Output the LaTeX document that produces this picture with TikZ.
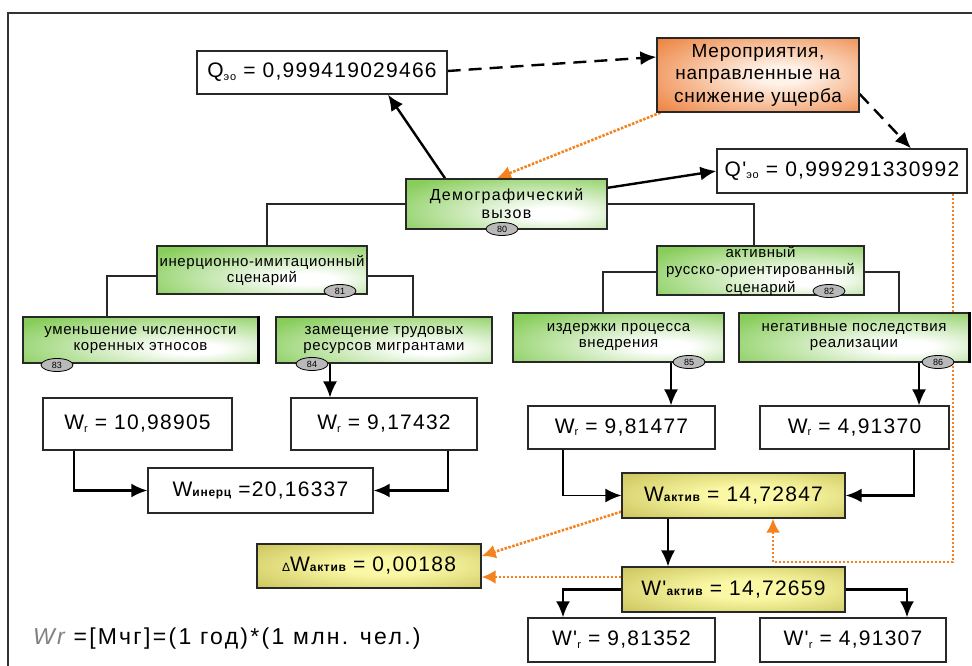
\documentclass[tikz,border=0pt]{standalone}
\usepackage{fontspec}
\setmainfont{Liberation Sans}
\newfontfamily\numf[LetterSpace=6]{Liberation Sans}
\newfontfamily\txtf[LetterSpace=4]{Liberation Sans}
\newfontfamily\widef[LetterSpace=8]{Liberation Sans}
\newfontfamily\formf[LetterSpace=10]{Liberation Sans}
\usetikzlibrary{arrows.meta,shapes.geometric,calc}
\pgfdeclarelayer{bg}
\pgfsetlayers{bg,main}
\definecolor{gout}{RGB}{135,205,90}
\definecolor{oout}{RGB}{236,122,50}
\definecolor{oin}{RGB}{255,242,232}
\definecolor{yout}{RGB}{190,182,72}
\definecolor{yin}{RGB}{250,248,165}
\definecolor{orng}{RGB}{245,130,30}
\definecolor{bord}{RGB}{40,40,40}
\pgfdeclareradialshading{gshade}{\pgfpoint{12bp}{-10bp}}{color(0bp)=(white);color(6bp)=(white);color(40bp)=(gout);color(100bp)=(gout)}
\pgfdeclareradialshading{oshade}{\pgfpoint{6bp}{0bp}}{color(0bp)=(oin);color(6bp)=(oin);color(40bp)=(oout);color(100bp)=(oout)}
\pgfdeclareradialshading{yshade}{\pgfpoint{4bp}{0bp}}{color(0bp)=(yin);color(10bp)=(yin);color(45bp)=(yout);color(100bp)=(yout)}
\newcommand\lowsub[1]{\raisebox{-2.5pt}{\fontsize{11}{11}\selectfont #1}}
\newcommand\smb[1]{{\fontsize{12}{12}\selectfont\bfseries #1}}
\begin{document}
\begin{tikzpicture}[x=1pt,y=-1pt,
  sz/.style 2 args={minimum width=#1pt,minimum height=#2pt,inner sep=0pt},
  wbox/.style={draw=bord,line width=1.3pt,fill=white,align=center,font=\numf\fontsize{21}{24}\selectfont},
  gbox/.style={draw=bord,line width=1.5pt,shading=gshade,align=center,font=\txtf\fontsize{15}{16}\selectfont},
  obox/.style={draw=bord,line width=1.3pt,shading=oshade,align=center,font=\txtf\fontsize{19}{22.5}\selectfont},
  ybox/.style={draw=bord,line width=1.3pt,shading=yshade,align=center,font=\numf\fontsize{21}{24}\selectfont},
  badge/.style={ellipse,draw=black,line width=0.8pt,fill=gray!55,minimum width=32pt,minimum height=13pt,inner sep=0pt,font=\fontsize{9}{9}\selectfont},
  frame/.style={draw=black!80,line width=1.6pt},
  tree/.style={draw=bord,line width=1.1pt},
  arr/.style={draw=black,line width=1.6pt,-{Latex[length=16pt,width=14pt]}},
  harr/.style={draw=black,line width=2.4pt,-{Latex[length=16pt,width=14pt]}},
  darr/.style={draw=black,line width=2.4pt,dash pattern=on 13pt off 8pt,-{Latex[length=16pt,width=14pt]}},
  oarr/.style={draw=orng,line width=2.6pt,dash pattern=on 2.5pt off 1.5pt,-{Latex[length=14pt,width=14pt,color=orng]}},
  olin/.style={draw=orng,line width=2.6pt,dash pattern=on 2.5pt off 1.5pt}
]
\useasboundingbox (0,0) rectangle (972,666);

% top level
\node[wbox,sz={250}{43}] (qso) at (322,72.5) {Q\lowsub{эо} = 0,999419029466};
\node[obox,sz={202}{74}] (mer) at (758,75) {Мероприятия,\\направленные на\\снижение ущерба};
\node[wbox,sz={250}{44}] (qpso) at (842,171) {Q'\lowsub{эо} = 0,999291330992};
\node[gbox,sz={201}{50},font=\widef\fontsize{16}{18}\selectfont] (demo) at (506.5,204) {Демографический\\вызов};

% scenarios
\node[gbox,sz={210}{48}] (iner) at (262,270) {инерционно-имитационный\\сценарий};
\node[gbox,sz={207}{49},font=\txtf\fontsize{15}{17.5}\selectfont] (akt) at (760.5,270.5) {активный\\русско-ориентированный\\сценарий};
\node[gbox,sz={235}{46}] (umen) at (140.5,340) {уменьшение численности\\коренных этносов};
\node[gbox,sz={216}{46}] (zam) at (384,340) {замещение трудовых\\ресурсов мигрантами};
\node[gbox,sz={211}{49}] (izd) at (618.5,337.5) {издержки процесса\\внедрения};
\node[gbox,sz={230}{49}] (neg) at (854,337.5) {негативные последствия\\реализации};

% values
\node[wbox,sz={189}{52}] (wr1) at (137.5,424) {W\lowsub{r} = 10,98905};
\node[wbox,sz={186}{52}] (wr2) at (384,424) {W\lowsub{r} = 9,17432};
\node[wbox,sz={187}{43}] (wr3) at (621.5,427.5) {W\lowsub{r} = 9,81477};
\node[wbox,sz={189}{43}] (wr4) at (854.5,427.5) {W\lowsub{r} = 4,91370};
\node[wbox,sz={225}{45}] (winer) at (260.5,490.5) {W\smb{инерц} =20,16337};
\node[ybox,sz={223}{45}] (wakt) at (733.5,495.5) {W\smb{актив} = 14,72847};
\node[ybox,sz={224}{44}] (dw) at (369,566) {{\fontsize{12}{12}\selectfont Δ}W\smb{актив} = 0,00188};
\node[ybox,sz={223}{45}] (wpakt) at (733.5,589.5) {W'\smb{актив} = 14,72659};
\node[wbox,sz={187}{44}] (wpr1) at (621.5,640) {W'\lowsub{r} = 9,81352};
\node[wbox,sz={186}{44}] (wpr2) at (853,640) {W'\lowsub{r} = 4,91307};

% shadows on right edges
\draw[line width=3pt,black] (umen.north east) -- (umen.south east);
\draw[line width=3pt,black] (neg.north east) -- (neg.south east);

% badges
\node[badge] (b80) at (502,229) {80};
\node[badge] (b81) at (340,291) {81};
\node[badge] (b82) at (829,291) {82};
\node[badge] (b83) at (57,365) {83};
\node[badge] (b84) at (312,364) {84};
\node[badge] (b85) at (689,362) {85};
\node[badge] (b86) at (938,362) {86};

% formula
\node[anchor=west,inner sep=0pt,font=\formf\fontsize{23}{26}\selectfont] (form) at (33,639)
  {{\color{gray}\itshape Wr} =[Мчг]=(1 год)*(1 млн. чел.)};

\begin{pgfonlayer}{bg}
\draw[frame] (8,13) rectangle (990,690);
% tree
\draw[tree] (demo.west) -| ([xshift=5pt]iner.north);
\draw[tree] (demo.east) -| ([xshift=-6.5pt]akt.north);
\draw[tree] ([yshift=-6pt]iner.west) -| ([xshift=-33.5pt]umen.north);
\draw[tree] ([yshift=-6pt]iner.east) -| ([xshift=29pt]zam.north);
\draw[tree] ([yshift=-1.5pt]akt.west) -| ([xshift=-15.5pt]izd.north);
\draw[tree] ([yshift=-1.5pt]akt.east) -| ([xshift=45pt]neg.north);
% down arrows
\draw[arr] ([xshift=-54pt]zam.south) -- ([xshift=-54pt]wr2.north);
\draw[arr] ([xshift=52.5pt]izd.south) -- ([xshift=52.5pt]izd.south |- wr3.north);
\draw[arr] ([xshift=65pt]neg.south) -- ([xshift=65pt]neg.south |- wr4.north);
\draw[harr] ([xshift=-63.5pt]wr1.south) |- (winer.west);
\draw[harr] ([xshift=64pt]wr2.south) |- (winer.east);
\draw[arr] ([xshift=-58.5pt]wr3.south) |- (wakt.west);
\draw[harr] ([xshift=59.5pt]wr4.south) |- (wakt.east);
\draw[arr] ([xshift=-65.5pt]wakt.south) -- ([xshift=-65.5pt]wpakt.north);
\draw[harr] (wpakt.west) -| ([xshift=-58.5pt]wpr1.north);
\draw[harr] (wpakt.east) -| ([xshift=54pt]wpr2.north);
% to Q
\draw[harr] ([xshift=-61.5pt]demo.north) -- ([xshift=66pt]qso.south);
\draw[harr] ([xshift=-3pt,yshift=-10pt]demo.north east) -- (qpso.west);
% dashed
\draw[darr] ([yshift=1.5pt]qso.east) -- ([yshift=18pt]mer.west);
\draw[darr] ([yshift=-19pt]mer.east) -- ([xshift=69pt]qpso.north);
% orange
\coordinate (oc) at (953,562);
\draw[oarr] ([xshift=4pt]mer.south west) -- ([xshift=-9.5pt]demo.north);
\draw[olin] ([xshift=111pt]qpso.south) -- (oc);
\draw[oarr] (oc) -| ([xshift=39.5pt]wakt.south);
\draw[oarr] ([yshift=7pt]wakt.south west) -- ([yshift=10pt]dw.east);
\draw[oarr] ([yshift=12.5pt]wpakt.west) -- ([yshift=-11pt]dw.east);
\end{pgfonlayer}
\end{tikzpicture}
\end{document}
